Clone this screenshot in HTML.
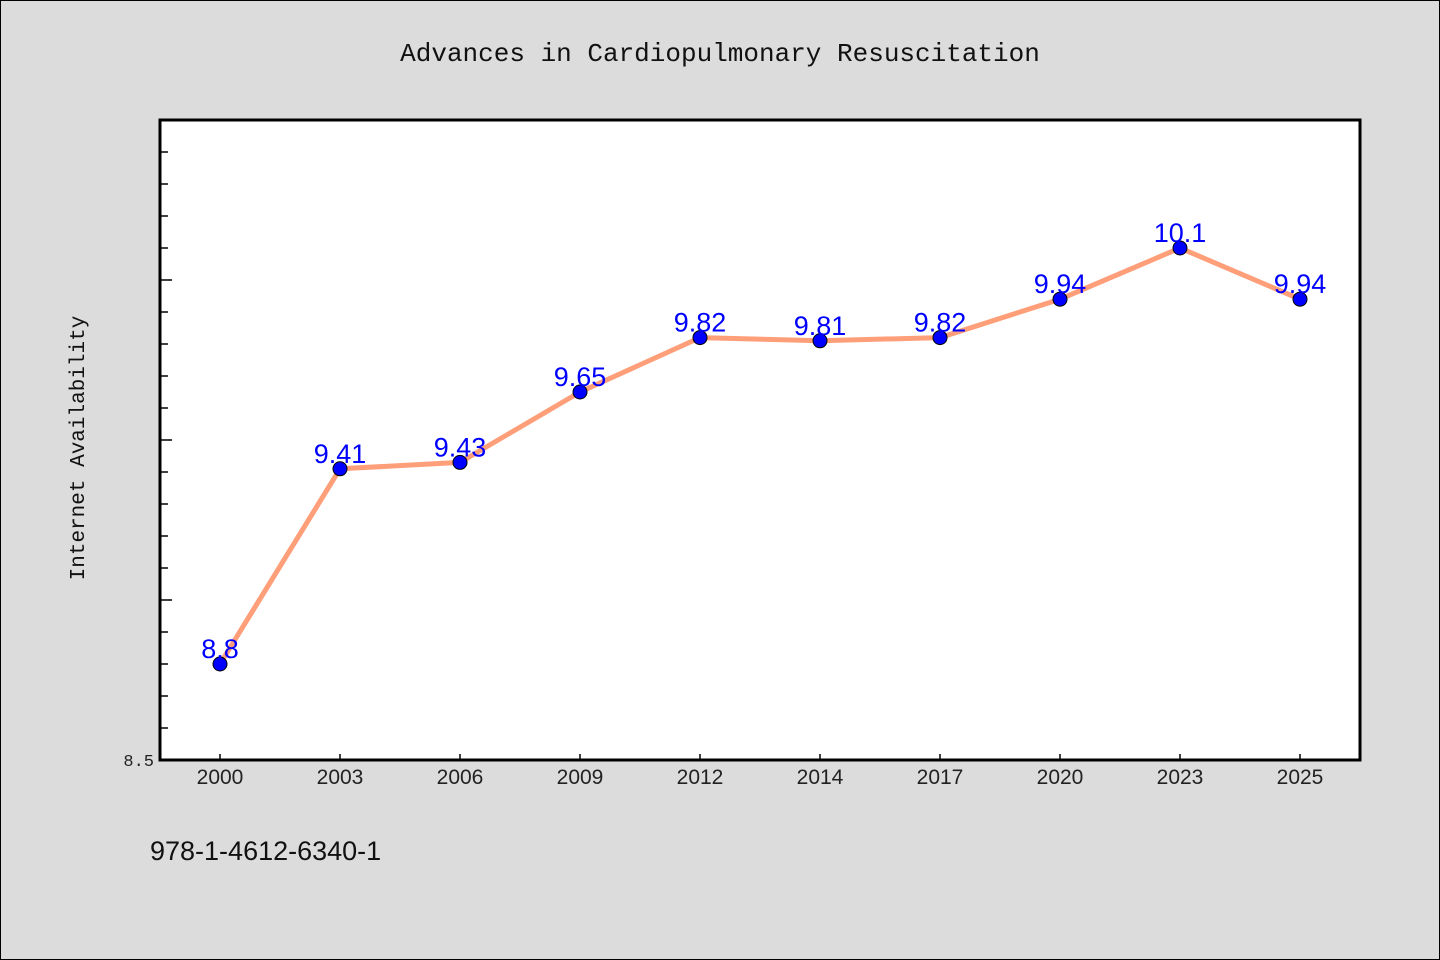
<!DOCTYPE html>
<html><head><meta charset="utf-8"><style>
body{margin:0;background:#dcdcdc;}
svg{display:block;font-family:"Liberation Mono","DejaVu Sans Mono",monospace;}
</style></head><body>
<svg id="chart" width="1440" height="960">
<rect x="0.5" y="0.5" width="1439" height="959" fill="#dcdcdc" stroke="#000"/>
<text x="720" y="61" text-anchor="middle" font-size="26" fill="#111">Advances in Cardiopulmonary Resuscitation</text>
<rect x="160" y="120" width="1200" height="640" fill="#fff" stroke="#000" stroke-width="3"/>
<text transform="translate(84,448) rotate(-90)" text-anchor="middle" font-size="21" fill="#111">Internet Availability</text>
<text x="150" y="860" font-family="Liberation Sans, sans-serif" font-size="27" fill="#111">978-1-4612-6340-1</text>
<g id="axes"></g><g id="marks"></g>
</svg>
<script>
const categories=["2000","2003","2006","2009","2012","2014","2017","2020","2023","2025"];
const values=[8.8,9.41,9.43,9.65,9.82,9.81,9.82,9.94,10.1,9.94];
const valueLabels=["8.8","9.41","9.43","9.65","9.82","9.81","9.82","9.94","10.1","9.94"];
const yMin=8.5,yMax=10.5;
const L=160,R=1360,T=120,B=760;
const ns="http://www.w3.org/2000/svg";
function x(i){return L+60+i*(R-L-120)/(categories.length-1);}
function y(v){return B-(v-yMin)/(yMax-yMin)*(B-T);}
function mk(t,a,p){const e=document.createElementNS(ns,t);for(const k in a)e.setAttribute(k,a[k]);p.appendChild(e);return e;}
const ax=document.getElementById('axes'),mg=document.getElementById('marks');
for(let k=1;k<20;k++){const v=yMin+k*0.1;const major=k%5===0;
 const t=mk('line',{x1:L,x2:L+(major?12:8),y1:y(v),y2:y(v),stroke:'#000','stroke-width':1.5},ax);
 }
const yl=mk('text',{x:154,y:B+6,'text-anchor':'end','font-size':17,fill:'#222'},ax);yl.textContent="8.5";

categories.forEach((c,i)=>{
 const t=mk('line',{x1:x(i),x2:x(i),y1:B,y2:B-6,stroke:'#000','stroke-width':1.5},ax);
 
 const l=mk('text',{x:x(i),y:B+24,'text-anchor':'middle','font-size':21,'font-family':'Liberation Sans, sans-serif',fill:'#222'},ax);l.textContent=c;
 });
const line=mk('polyline',{points:values.map((v,i)=>x(i)+','+y(v)).join(' '),fill:'none',stroke:'#ff9f7a','stroke-width':5,'stroke-linejoin':'round'},mg);

values.forEach((v,i)=>{
 const p=mk('circle',{cx:x(i),cy:y(v),r:7,fill:'#0000ff',stroke:'#000','stroke-width':1},mg);
 
 const t=mk('text',{x:x(i),y:y(v)-6,'text-anchor':'middle','font-size':27,'font-family':'Liberation Sans, sans-serif',fill:'#0000ff'},mg);t.textContent=valueLabels[i];
 });
</script>
</body></html>
